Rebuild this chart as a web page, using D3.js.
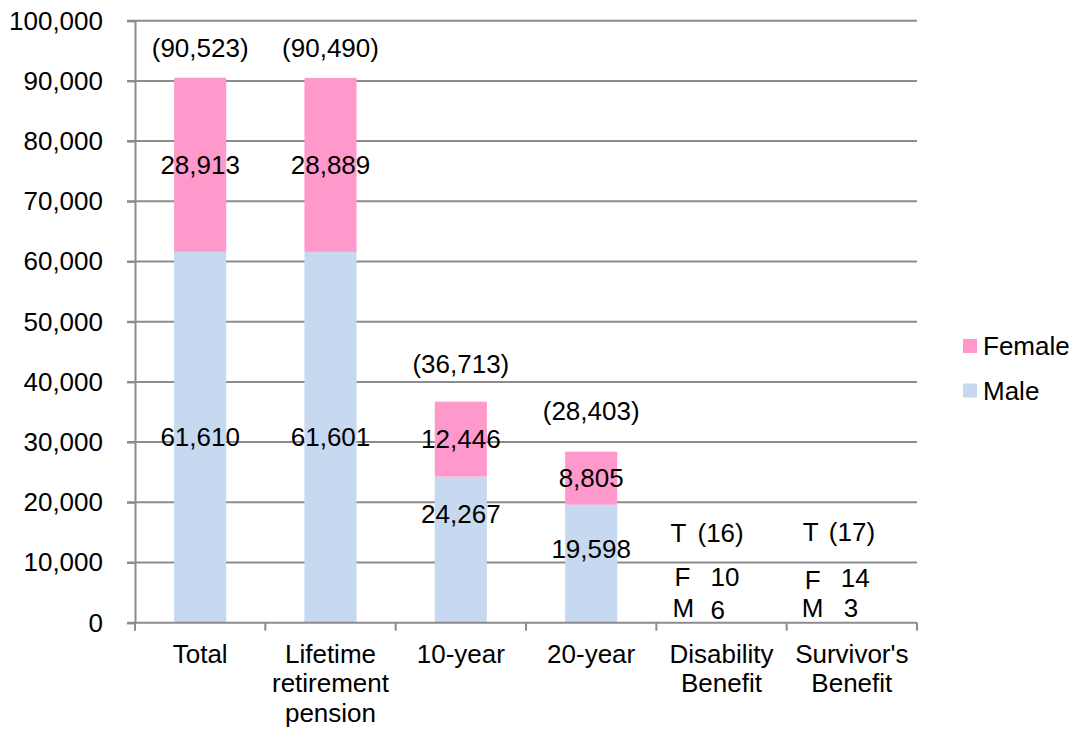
<!DOCTYPE html>
<html><head><meta charset="utf-8">
<script src="https://cdn.jsdelivr.net/npm/d3@7"></script>
<style>body{margin:0;background:#fff}svg{display:block;font-family:"Liberation Sans",Arial,sans-serif}</style>
</head><body><svg id="c" width="1077" height="729"></svg>
<script>
const categories = ["Total", "Lifetime retirement pension", "10-year", "20-year", "Disability Benefit", "Survivor's Benefit"];
const categoryLines = [["Total"], ["Lifetime", "retirement", "pension"], ["10-year"], ["20-year"], ["Disability", "Benefit"], ["Survivor's", "Benefit"]];
const male = [61610, 61601, 24267, 19598, 6, 3];
const female = [28913, 28889, 12446, 8805, 10, 14];
const totals = [90523, 90490, 36713, 28403, 16, 17];
const yTicks = [0, 10000, 20000, 30000, 40000, 50000, 60000, 70000, 80000, 90000, 100000];
const seriesNames = ["Female", "Male"];
const colors = {Female: "#FF99CC", Male: "#C6D9F1"};

// layout-only nudges (px) for labels placed manually in the original
const totalNudge = [30, 30, 38, 41];
const maleNudge = [0, 0, -36, -15];

const svg = d3.select("#c");
const FS = 26;
const x = d3.scaleBand().domain(categories).range([135, 917]).paddingInner(0.6).paddingOuter(0.3);
const y = d3.scaleLinear().domain([0, 100000]).range([622.7, 20.7]);

// gridlines
svg.append("g").selectAll("line").data(yTicks.filter(d => d > 0)).join("line")
  .attr("x1", 127).attr("x2", 917).attr("y1", d => y(d)).attr("y2", d => y(d))
  .attr("stroke", "#8c8c8c").attr("stroke-width", 2);

// bars
const g = svg.append("g");
categories.forEach((c, i) => {
  g.append("rect").attr("x", x(c)).attr("width", x.bandwidth())
    .attr("y", y(male[i])).attr("height", y(0) - y(male[i])).attr("fill", colors.Male);
  g.append("rect").attr("x", x(c)).attr("width", x.bandwidth())
    .attr("y", y(male[i] + female[i])).attr("height", y(male[i]) - y(male[i] + female[i])).attr("fill", colors.Female);
});

// y axis
const yAxis = d3.axisLeft(y).tickValues(yTicks).tickSize(8).tickPadding(24).tickFormat(d3.format(","));
const ya = svg.append("g").attr("transform", "translate(135,0)").call(yAxis);
ya.select(".domain").attr("stroke", "#8c8c8c").attr("stroke-width", 2);
ya.selectAll(".tick line").attr("stroke", "#8c8c8c").attr("stroke-width", 2);
ya.selectAll("text").attr("font-size", FS).attr("fill", "#000").attr("font-family", "Liberation Sans, Arial, sans-serif");

// x axis
const xa = svg.append("g").attr("transform", `translate(0,${y(0)})`);
xa.append("line").attr("x1", 127).attr("x2", 917).attr("stroke", "#8c8c8c").attr("stroke-width", 2);
const bandEdges = d3.range(categories.length + 1).map(i => 135 + i * (917 - 135) / categories.length);
xa.selectAll("line.tk").data(bandEdges).join("line").attr("class", "tk")
  .attr("x1", d => d).attr("x2", d => d).attr("y1", 0).attr("y2", 8)
  .attr("stroke", "#8c8c8c").attr("stroke-width", 2);
categories.forEach((c, i) => {
  const cx = x(c) + x.bandwidth() / 2;
  categoryLines[i].forEach((ln, j) => {
    xa.append("text").attr("x", cx).attr("y", 40 + j * 29.5).attr("text-anchor", "middle")
      .attr("font-size", FS).attr("fill", "#000").text(ln);
  });
});

// data labels
const fmt = d3.format(",");
const lab = svg.append("g").attr("font-size", FS).attr("fill", "#000").attr("text-anchor", "middle");
for (let i = 0; i < 4; i++) {
  const cx = x(categories[i]) + x.bandwidth() / 2;
  lab.append("text").attr("x", cx).attr("y", y(totals[i]) - totalNudge[i]).attr("dy", "0.35em").text("(" + fmt(totals[i]) + ")");
  lab.append("text").attr("x", cx).attr("y", y(male[i] + female[i] / 2)).attr("dy", "0.35em").text(fmt(female[i]));
  lab.append("text").attr("x", cx).attr("y", y(male[i] / 2) + maleNudge[i]).attr("dy", "0.35em").text(fmt(male[i]));
}
// small categories: text boxes (offsets relative to band centre / baseline)
const small = [
  {i: 4, t: [-51, -90], tv: [-24, -90], f: [-47, -46], fv: [-11, -46], m: [-49, -15], mv: [-11, -13]},
  {i: 5, t: [-49, -91], tv: [-23, -91], f: [-47, -43], fv: [-11, -45], m: [-50, -15], mv: [-8, -15]}
];
const sl = svg.append("g").attr("font-size", FS).attr("fill", "#000");
small.forEach(s => {
  const cx = x(categories[s.i]) + x.bandwidth() / 2;
  const b = y(0);
  const put = (p, txt) => sl.append("text").attr("x", cx + p[0]).attr("y", b + p[1]).attr("dy", "0.35em").text(txt);
  put(s.t, "T");
  put(s.tv, "(" + totals[s.i] + ")");
  put(s.f, "F");
  put(s.fv, female[s.i]);
  put(s.m, "M");
  put(s.mv, male[s.i]);
});

// legend
const lg = svg.append("g");
seriesNames.forEach((n, k) => {
  const yy = 346 + k * 44.5;
  lg.append("rect").attr("x", 963).attr("y", yy - 7).attr("width", 14).attr("height", 14).attr("fill", colors[n]);
  lg.append("text").attr("x", 983).attr("y", yy).attr("dy", "0.35em").attr("font-size", FS).attr("fill", "#000").text(n);
});
</script></body></html>
